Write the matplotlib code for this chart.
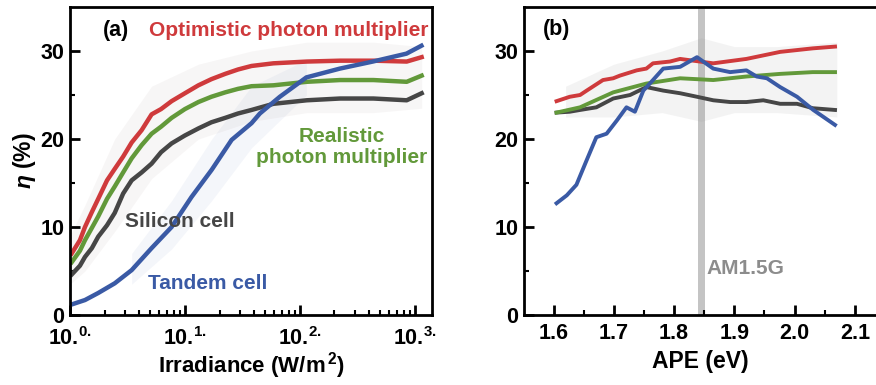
import matplotlib
matplotlib.use("Agg")
import matplotlib.pyplot as plt
from matplotlib.ticker import FixedLocator, NullFormatter

plt.rcParams['font.family'] = ['Liberation Sans', 'DejaVu Sans']
plt.rcParams['font.weight'] = 'bold'
plt.rcParams['mathtext.fontset'] = 'custom'
plt.rcParams['mathtext.rm'] = 'Liberation Sans:bold'
plt.rcParams['mathtext.bf'] = 'Liberation Sans:bold'
plt.rcParams['mathtext.it'] = 'Liberation Sans:italic:bold'
plt.rcParams['mathtext.default'] = 'bf'

# ---------------- data: panel (a) ----------------
irr = [1.035, 1.22, 1.35, 1.55, 1.76, 2.1, 2.45, 2.9, 3.44, 4.2, 5.13, 6.2, 7.66, 10.0, 13.1, 17.0,
       22.4, 29.0, 38.0, 58.9, 115, 224, 437, 851, 1148]
opt_a = [7.0, 8.5, 10.0, 11.7, 13.2, 15.3, 16.6, 18.0, 19.6, 21.0, 22.8, 23.4, 24.3, 25.2, 26.1, 26.8,
         27.4, 27.9, 28.3, 28.6, 28.8, 28.9, 28.9, 28.8, 29.3]
real_a = [6.0, 7.3, 8.5, 9.9, 11.2, 13.2, 14.6, 16.2, 17.8, 19.3, 20.6, 21.4, 22.4, 23.4, 24.2, 24.8,
          25.3, 25.7, 26.0, 26.1, 26.5, 26.7, 26.7, 26.5, 27.2]
si_a = [4.6, 5.6, 6.6, 7.6, 8.9, 10.2, 11.6, 13.8, 15.3, 16.2, 17.2, 18.5, 19.5, 20.4, 21.2, 21.9,
        22.4, 22.9, 23.3, 24.0, 24.4, 24.6, 24.6, 24.4, 25.2]
irr_tandem = [1.035, 1.35, 1.76, 2.45, 3.44, 5.13, 7.66, 11.4, 17.1, 25.5, 38.0, 44.9, 67, 114, 223, 431, 847, 1143]
tandem_a = [1.2, 1.7, 2.5, 3.6, 5.1, 7.6, 10.0, 13.4, 16.5, 19.9, 21.8, 22.9, 24.8, 27.0, 28.0, 28.8, 29.7, 30.6]

cloud_a_x = [1.0, 1.35, 2.45, 5.13, 13.1, 38.0, 115, 437, 1148]
cloud_a_top = [9.0, 12.5, 20.0, 26.0, 28.5, 30.0, 31.0, 31.0, 30.5]
cloud_a_bot = [3.5, 5.0, 9.5, 15.5, 20.0, 22.0, 23.0, 23.0, 23.5]
cloud_t_x = [3.44, 7.66, 17.1, 38.0, 114]
cloud_t_top = [7.0, 13.0, 20.0, 26.0, 29.0]
cloud_t_bot = [3.5, 7.5, 13.0, 19.0, 25.0]

a_ticks = [1, 10, 100, 1000]
a_tick_labels = [r'10.$^{0.}$', r'10.$^{1.}$', r'10.$^{2.}$', r'10.$^{3.}$']

# ---------------- data: panel (b) ----------------
ape_r = [1.605, 1.627, 1.644, 1.655, 1.682, 1.699, 1.71, 1.738, 1.754, 1.765, 1.793, 1.81, 1.832, 1.865, 1.92, 1.976, 2.03, 2.067]
opt_b = [24.3, 24.8, 25.0, 25.5, 26.7, 26.9, 27.2, 27.8, 28.0, 28.6, 28.8, 29.1, 28.9, 28.6, 29.1, 29.9, 30.3, 30.5]
ape_g = [1.605, 1.644, 1.699, 1.754, 1.81, 1.865, 1.92, 1.976, 2.03, 2.067]
real_b = [23.0, 23.6, 25.3, 26.3, 26.9, 26.7, 27.1, 27.4, 27.6, 27.6]
ape_k = [1.605, 1.627, 1.644, 1.671, 1.699, 1.727, 1.754, 1.782, 1.81, 1.838, 1.865, 1.893, 1.92, 1.948, 1.976, 2.004, 2.03, 2.067]
si_b = [23.0, 23.1, 23.3, 23.6, 24.6, 25.0, 25.9, 25.5, 25.2, 24.8, 24.4, 24.2, 24.2, 24.4, 24.0, 24.0, 23.5, 23.3]
ape_t = [1.605, 1.622, 1.638, 1.655, 1.671, 1.688, 1.705, 1.721, 1.735, 1.749, 1.765, 1.782, 1.81, 1.838, 1.865, 1.893, 1.92, 1.937, 1.954, 1.976, 2.004, 2.031, 2.067]
tandem_b = [12.7, 13.6, 14.8, 17.6, 20.2, 20.6, 22.1, 23.6, 23.1, 25.5, 26.7, 28.0, 28.2, 29.3, 28.0, 27.6, 27.8, 27.1, 26.9, 25.9, 24.8, 23.3, 21.6]

cloud_b_x = [1.62, 1.70, 1.78, 1.845, 1.90, 1.97, 2.07]
cloud_b_top = [26.0, 28.5, 30.0, 31.5, 30.5, 30.5, 31.0]
cloud_b_bot = [22.5, 22.5, 23.0, 22.0, 23.0, 23.0, 22.5]
am15g_ape = 1.846

b_ticks = [1.6, 1.7, 1.8, 1.9, 2.0, 2.1]
b_tick_labels = ['1.6', '1.7', '1.8', '1.9', '2.0', '2.1']
y_ticks = [0, 10, 20, 30]

# ---------------- styling ----------------
RED = '#cf3a3c'
GREEN = '#62993a'
DARK = '#464646'
BLUE = '#3a5aa5'
LWA = 3.2
LWB = 2.8

W, H = 876, 385
fig = plt.figure(figsize=(W / 100, H / 100), dpi=100)
axA = fig.add_axes([70 / W, 1 - 315 / H, (432 - 70) / W, (315 - 7) / H])
axB = fig.add_axes([524 / W, 1 - 315 / H, (876 - 524) / W, (315 - 7) / H])


def style(ax, xpad):
    for s in ax.spines.values():
        s.set_linewidth(2.0)
    ax.tick_params(which='major', direction='in', length=7, width=2, labelsize=15.5, pad=4)
    ax.tick_params(which='minor', direction='in', length=3.5, width=1.5)
    ax.tick_params(axis='x', which='major', pad=xpad)
    ax.set_ylim(0, 35)
    ax.set_yticks(y_ticks)
    ax.yaxis.set_minor_locator(FixedLocator([5, 15, 25]))
    for lab in ax.get_yticklabels():
        lab.set_fontweight('bold')


# panel (a)
axA.set_xscale('log')
axA.fill_between(cloud_a_x, cloud_a_bot, cloud_a_top, color='#b8a8a8', alpha=0.10, lw=0)
axA.fill_between(cloud_t_x, cloud_t_bot, cloud_t_top, color=BLUE, alpha=0.05, lw=0)
axA.plot(irr, si_a, color=DARK, lw=LWA)
axA.plot(irr, real_a, color=GREEN, lw=LWA)
axA.plot(irr, opt_a, color=RED, lw=LWA)
axA.plot(irr_tandem, tandem_a, color=BLUE, lw=LWA)
axA.set_xlim(1, 10 ** 3.15)
style(axA, 8.5)
axA.set_xticks(a_ticks)
axA.set_xticklabels(a_tick_labels)
axA.xaxis.set_minor_formatter(NullFormatter())
axA.set_xlabel(r'Irradiance (W/m$^{\,2}$)', fontsize=16, fontweight='bold', labelpad=0)
axA.set_ylabel(r'$\mathit{\eta}$ (%)', fontsize=16.5, fontweight='bold', labelpad=2)
axA.text(0.09, 0.925, '(a)', transform=axA.transAxes, fontsize=15.5, fontweight='bold', ha='left', va='center')
axA.text(0.99, 0.925, 'Optimistic photon multiplier', transform=axA.transAxes, fontsize=15,
         fontweight='bold', color=RED, ha='right', va='center')
axA.text(0.75, 0.545, 'Realistic\nphoton multiplier', transform=axA.transAxes, fontsize=15,
         fontweight='bold', color=GREEN, ha='center', va='center', linespacing=1.1)
axA.text(0.152, 0.302, 'Silicon cell', transform=axA.transAxes, fontsize=15,
         fontweight='bold', color=DARK, ha='left', va='center')
axA.text(0.215, 0.101, 'Tandem cell', transform=axA.transAxes, fontsize=15,
         fontweight='bold', color=BLUE, ha='left', va='center')

# panel (b)
axB.axvspan(am15g_ape - 0.0055, am15g_ape + 0.0055, color='#c4c4c4', lw=0, zorder=0)
axB.fill_between(cloud_b_x, cloud_b_bot, cloud_b_top, color='#909090', alpha=0.10, lw=0)
axB.plot(ape_k, si_b, color=DARK, lw=LWB)
axB.plot(ape_g, real_b, color=GREEN, lw=LWB)
axB.plot(ape_r, opt_b, color=RED, lw=LWB)
axB.plot(ape_t, tandem_b, color=BLUE, lw=LWB)
axB.set_xlim(1.551, 2.135)
style(axB, 6)
axB.spines['right'].set_visible(False)
axB.set_xticks(b_ticks)
axB.set_xticklabels(b_tick_labels)
axB.xaxis.set_minor_locator(FixedLocator([1.65, 1.75, 1.85, 1.95, 2.05]))
for lab in axB.get_xticklabels() + axA.get_xticklabels():
    lab.set_fontweight('bold')
axB.set_xlabel('APE (eV)', fontsize=16.5, fontweight='bold', labelpad=4)
axB.text(1.582, 32.4, '(b)', fontsize=15.5, fontweight='bold', ha='left', va='center')
axB.text(1.853, 5.3, 'AM1.5G', fontsize=15, fontweight='bold', color='#8c8c8c', ha='left', va='center')

fig.savefig('out.png', dpi=100)
